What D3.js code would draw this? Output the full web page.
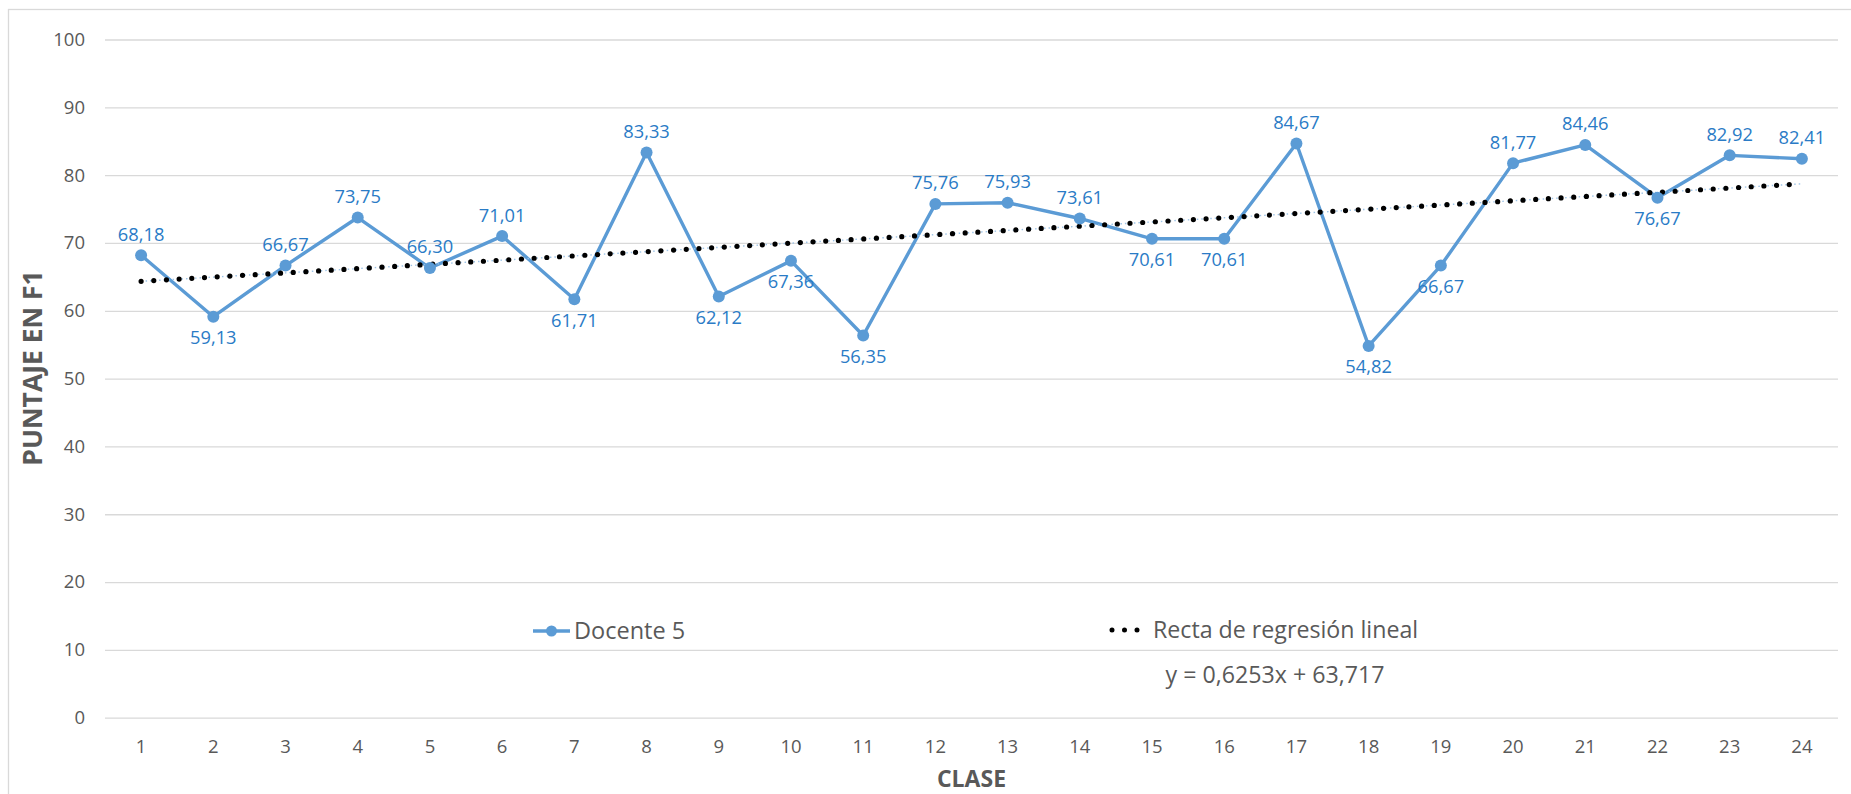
<!DOCTYPE html>
<html>
<head>
<meta charset="utf-8">
<script src="https://cdn.jsdelivr.net/npm/d3@7"></script>
<style>
  html, body { margin: 0; padding: 0; background: #fff; }
  svg { display: block; font-family: "Open Sans", sans-serif; }
</style>
</head>
<body>
<svg id="chart" width="1851" height="794"></svg>
<script>
// Scores per class for "Docente 5"
const classes = ["1","2","3","4","5","6","7","8","9","10","11","12","13","14","15","16","17","18","19","20","21","22","23","24"];
const scores = [68.18, 59.13, 66.67, 73.75, 66.30, 71.01, 61.71, 83.33, 62.12, 67.36, 56.35, 75.76,
                75.93, 73.61, 70.61, 70.61, 84.67, 54.82, 66.67, 81.77, 84.46, 76.67, 82.92, 82.41];
// Where each value label sits relative to its point
const labelSide = ["up","down","up","up","up","up","down","up","down","down","down","up",
                   "up","up","down","down","up","down","down","up","up","down","up","up"];
const yTicks = [0, 10, 20, 30, 40, 50, 60, 70, 80, 90, 100];
// Linear regression: y = slope * x + intercept
const slope = 0.6253;
const intercept = 63.717;
const seriesName = "Docente 5";
const trendName = "Recta de regresión lineal";
const equationText = "y = 0,6253x + 63,717";
const xTitle = "CLASE";
const yTitle = "PUNTAJE EN F1";

const fmt = v => v.toFixed(2).replace(".", ",");

const svg = d3.select("#chart");
const plotL = 105, plotR = 1838, plotT = 39.5, plotB = 717.7;

const lineColor = "#5b9bd5";
const labelColor = "#2a7bc6";
const textGray = "#595959";

// Chart frame
svg.append("rect")
  .attr("x", 8.5).attr("y", 9.5)
  .attr("width", 1900).attr("height", 900)
  .attr("fill", "none").attr("stroke", "#d9d9d9").attr("stroke-width", 1.3);

const x = d3.scaleBand().domain(classes).range([plotL, plotR]).padding(0);
const y = d3.scaleLinear().domain([0, 100]).range([plotB, plotT]);
const cx = c => x(c) + x.bandwidth() / 2;

// Y axis with gridlines
const yAxis = svg.append("g")
  .attr("transform", `translate(${plotL},0)`)
  .call(d3.axisLeft(y).tickValues(yTicks).tickSize(-(plotR - plotL)).tickPadding(20).tickFormat(d3.format("d")));
yAxis.select(".domain").remove();
yAxis.selectAll(".tick line").attr("stroke", "#d9d9d9").attr("stroke-width", 1.3);
yAxis.selectAll(".tick text").attr("fill", textGray).attr("font-size", 18.5).attr("font-family", "Open Sans");

// X axis labels
const xAxis = svg.append("g")
  .attr("transform", `translate(0,${plotB})`)
  .call(d3.axisBottom(x).tickSize(0).tickPadding(22));
xAxis.select(".domain").remove();
xAxis.selectAll(".tick text").attr("fill", textGray).attr("font-size", 18.5).attr("font-family", "Open Sans");

// Axis titles
svg.append("text")
  .attr("x", (plotL + plotR) / 2).attr("y", 779).attr("dy", "0.35em")
  .attr("text-anchor", "middle").attr("font-weight", "bold").attr("font-size", 23)
  .attr("fill", textGray).text(xTitle);
svg.append("text")
  .attr("transform", "translate(33,368) rotate(-90)")
  .attr("dy", "0.35em")
  .attr("text-anchor", "middle").attr("font-weight", "bold").attr("font-size", 26.5)
  .attr("fill", textGray).text(yTitle);

// Series line
const line = d3.line().x((d, i) => cx(classes[i])).y(d => y(d));
svg.append("path")
  .datum(scores)
  .attr("d", line)
  .attr("fill", "none").attr("stroke", lineColor).attr("stroke-width", 3.4)
  .attr("stroke-linejoin", "round");

// Regression line (dotted), drawn on top of the series
const trendPts = classes.map((c, i) => [cx(c), y(slope * (i + 1) + intercept)]);
svg.append("path")
  .attr("d", d3.line()(trendPts))
  .attr("fill", "none").attr("stroke", "#9dc3e6").attr("stroke-width", 1.4)
  .attr("stroke-dasharray", "1.5 3");
svg.append("path")
  .attr("d", d3.line()(trendPts))
  .attr("fill", "none").attr("stroke", "#000").attr("stroke-width", 5.2)
  .attr("stroke-linecap", "round").attr("stroke-dasharray", "0 12.7");

// Markers
svg.append("g").selectAll("circle")
  .data(scores).join("circle")
  .attr("cx", (d, i) => cx(classes[i])).attr("cy", d => y(d))
  .attr("r", 6).attr("fill", lineColor);

// Value labels
svg.append("g").selectAll("text")
  .data(scores).join("text")
  .attr("x", (d, i) => cx(classes[i]))
  .attr("y", (d, i) => y(d) + (labelSide[i] === "up" ? -21 : 21))
  .attr("dy", "0.35em")
  .attr("text-anchor", "middle").attr("font-size", 18.3)
  .attr("fill", labelColor)
  .text(d => fmt(d));

// Legend
const lg = svg.append("g");
lg.append("line").attr("x1", 533).attr("x2", 570).attr("y1", 631).attr("y2", 631)
  .attr("stroke", lineColor).attr("stroke-width", 3.4);
lg.append("circle").attr("cx", 551.5).attr("cy", 631).attr("r", 5.5).attr("fill", lineColor);
lg.append("text").attr("x", 574).attr("y", 631).attr("dy", "0.35em")
  .attr("font-size", 23.5).attr("fill", textGray).text(seriesName);

lg.append("line").attr("x1", 1112).attr("x2", 1141).attr("y1", 630).attr("y2", 630)
  .attr("stroke", "#000").attr("stroke-width", 5)
  .attr("stroke-linecap", "round").attr("stroke-dasharray", "0 12.5");
lg.append("text").attr("x", 1153).attr("y", 630).attr("dy", "0.35em")
  .attr("font-size", 23.2).attr("fill", textGray).text(trendName);
lg.append("text").attr("x", 1275).attr("y", 675).attr("dy", "0.35em")
  .attr("text-anchor", "middle")
  .attr("font-size", 23.2).attr("fill", textGray).text(equationText);
</script>
</body>
</html>
